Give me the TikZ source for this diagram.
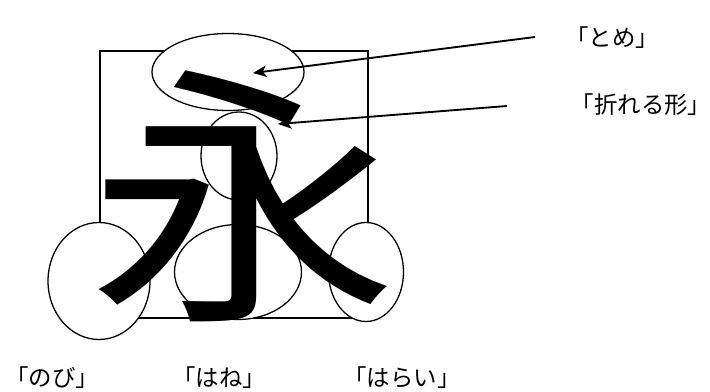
\documentclass[tikz,border=0pt]{standalone}
\usepackage{fontspec}
\newfontfamily\jp{Noto Sans CJK JP}
\usetikzlibrary{shapes.geometric,arrows.meta}

\begin{document}
\begin{tikzpicture}[x=0.3mm, y=-0.3mm,
    ring/.style={draw, ellipse, fill=white, line width=1.1pt, inner sep=0pt},
    tag/.style={font=\jp\fontsize{20pt}{20pt}\selectfont, inner sep=0pt},
    pointer/.style={line width=1.6pt, -{Stealth[length=4mm, width=3.4mm, inset=1mm]}}]
    \useasboundingbox (0,0) rectangle (710,392);

    % 枠
    \draw[line width=1.1pt] (100,51) rectangle (368,318);

    % 楕円
    \node[ring, minimum width=45.6mm, minimum height=23.1mm] (tome) at (228,72) {};
    \node[ring, minimum width=22.8mm, minimum height=26.4mm] (oreru) at (239,156) {};
    \node[ring, minimum width=30.6mm, minimum height=35.1mm] (nobi) at (99,281) {};
    \node[ring, minimum width=38.1mm, minimum height=28.5mm] (hane) at (238,272) {};
    \node[ring, minimum width=22.5mm, minimum height=29.7mm] (harai) at (366,272) {};

    % 永
    \node[inner sep=0pt, font=\jp\fontsize{234pt}{234pt}\selectfont] (ei) at (243,196) {\scalebox{1.13}[1]{永}};

    % ラベル
    \node[tag] (tome-label) at (612,38) {「とめ」};
    \node[tag] (oreru-label) at (641,105) {「折れる形」};
    \node[tag] (nobi-label) at (52,378) {「のび」};
    \node[tag] (hane-label) at (219,378) {「はね」};
    \node[tag] (harai-label) at (402,378) {「はらい」};

    % 矢印
    \coordinate (tome-tail) at (535,37);
    \coordinate (tome-tip) at (253,73);
    \coordinate (oreru-tail) at (507,106);
    \coordinate (oreru-tip) at (278,124);
    \draw[pointer] (tome-tail) -- (tome-tip);
    \draw[pointer] (oreru-tail) -- (oreru-tip);
\end{tikzpicture}
\end{document}
